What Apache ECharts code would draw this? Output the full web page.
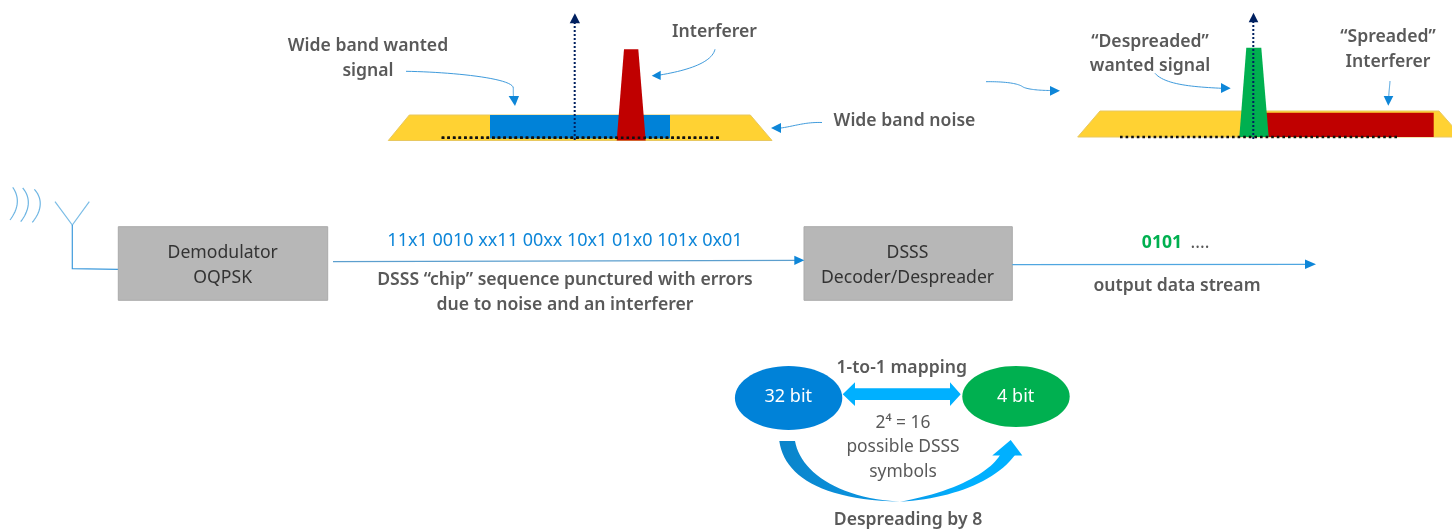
<!DOCTYPE html>
<html>
<head>
<meta charset="utf-8">
<style>html,body{margin:0;padding:0;background:#fff;overflow:hidden}#c{width:1452px;height:529px}</style>
<script src="https://cdn.jsdelivr.net/npm/echarts@6/dist/echarts.min.js"></script>
</head>
<body>
<div id="c"></div>
<script>
// ---- diagram geometry, in diagram units
const noiseBandLeft = [[388.3,140.5],[409.3,115],[750.3,115],[772,140.5]];
const wantedBandLeft = [[490,115],[670,115],[670,138.5],[490,138.5]];
const interfererLeft = [[624,49.3],[638.3,49.3],[645.7,140.5],[616.7,140.5]];
const noiseBandRight = [[1077.7,137],[1100,111],[1439,111],[1462,137]];
const spreadBandRight = [[1266,112.7],[1433.7,112.7],[1433.7,137],[1266,137]];
const despreadRight = [[1246.3,47.7],[1261.3,47.7],[1268.7,137],[1239.3,137]];
const demodBox = [[118.3,226.7],[327.7,226.7],[327.7,300.3],[118.3,300.3]];
const decoderBox = [[804,226.7],[1012.3,226.7],[1012.3,300.3],[804,300.3]];
const mappingArrow = [[842.7,394.3],[855,382.3],[855,388.3],[950,388.3],[950,382.3],[960.7,394.3],[950,406],[950,400],[855,400],[855,406]];
const despreadHead = [[992.3,455.5],[1010.7,440],[1022.3,455.5]];

const floorDotsLeft = [[441.7,137.7],[720.7,137.7]];
const floorDotsRight = [[1120,137],[1399.3,137]];
const carrierLeft = [[574.7,140],[574.7,22]];
const carrierRight = [[1253.3,139],[1253.3,21]];
const carrierHeadLeft = [[574.9,13.3],[580,23.3],[569.7,23.3]];
const carrierHeadRight = [[1253.5,12.7],[1258.3,22.3],[1248.7,22.3]];

const antennaFork = [[55,201.7],[72.3,225],[89.3,201.7]];
const antennaFeed = [[72.3,225],[72.3,268.7],[118.3,269.3]];
const chipLink = [[333,261.7],[795,260.3]];
const outputLink = [[1012.3,264.7],[1306,264.3]];
const chipHead = [[804.3,260.3],[794.3,255.7],[794.3,265]];
const outputHead = [[1316,264.3],[1305,259.6],[1305,269]];

// cubic Bezier control points: start, control, control, end
const waveOne = [[12.7,187.3],[19.5,197],[19,208],[10,220]];
const waveTwo = [[22.7,188],[30.5,197],[30.5,209],[20.7,221.7]];
const waveThree = [[34.3,189.3],[42.5,198],[42.5,210],[32.3,222.3]];
const wantedCurve = [[406,71.3],[450,72],[513,78],[513.3,88],[513.3,92],[513.3,94],[513.5,97]];
const interfererCurve = [[715,49.3],[712,62],[690,70],[660,75]];
const noiseCurve = [[822,122.5],[805,122],[795,126],[781,128]];
const centreCurve = [[986,81.7],[1003,81.5],[1018,83],[1023,87],[1028,89.5],[1040,90.5],[1051,90.5]];
const despreadCurve = [[1155,73.3],[1165,85],[1195,87],[1222,88.3]];
const spreadCurve = [[1390,81],[1389.7,86],[1389,91],[1388.7,97]];

const wantedHead = [[515,106],[508.6,96],[519,96]];
const interfererHead = [[651.7,75.7],[660.7,70.7],[660.7,80]];
const noiseHead = [[771,128],[781,123],[781,133]];
const centreHead = [[1060,90.7],[1050,86],[1050,95.7]];
const despreadHeadSmall = [[1230.7,88.3],[1221,83],[1221,93]];
const spreadHead = [[1388.3,105.7],[1383.7,96],[1393.3,96]];

const bandLowerLeft = [[779.3,441],[784,475],[820,500],[900,501.7]];
const bandUpperLeft = [[900,501.7],[835,498],[800,470],[795,441]];
const bandLowerRight = [[900,501.7],[950,499],[995,482],[1015,455]];
const bandUpperRight = [[1000,455],[990,472],[955,492],[900,501.7]];

const ellipseCentres = [[788.6,398],[1016,396.5]];
const ellipseRadii = [[53.7,32],[53.7,30.5]];

// ---- text
const headingLabels = ["Wide band wanted","signal","Interferer","Wide band noise","“Despreaded”","wanted signal","“Spreaded”","Interferer",
  "DSSS “chip” sequence punctured with errors","due to noise and an interferer","output data stream","1-to-1 mapping","Despreading by 8"];
const headingAnchors = [[368,46],[368,71],[714.5,32],[904.5,121],[1150,42],[1150,66],[1388,37],[1388,62],[565,279.5],[565,304.5],[1177,286],[901.7,368],[908,520]];
const boxLabels = ["Demodulator","OQPSK","DSSS","Decoder/Despreader"];
const boxAnchors = [[222.7,253],[222.7,278],[907.5,253],[907.5,278]];
const chipLabels = ["11x1 0010 xx11 00xx 10x1 01x0 101x 0x01"];
const chipAnchors = [[565,240.5]];
const outputBits = ["0101"];
const outputBitsAnchors = [[1162,243]];
const outputDots = ["...."];
const outputDotsAnchors = [[1200,243]];
const ellipseLabels = ["32 bit","4 bit"];
const ellipseLabelAnchors = [[788.3,396.5],[1015.7,396.5]];
const symbolLabels = ["2⁴ = 16","possible DSSS","symbols"];
const symbolAnchors = [[903,423],[903,447.5],[903,472]];

// ---- helpers
const YELLOW='#FFD233',BLUE='#0082D8',RED='#C00000',GREEN='#00B050',GREY='#B7B7B7',NAVY='#002060',
      WIRE='#3F9BDC',HEAD='#0E86D8',SKY='#00B0FF';
const FONT='"Noto Sans","Open Sans",sans-serif';

function cubicSample(ctrl){
  const out=[];
  for(let s=0;s+3<ctrl.length;s+=3){
    const [a,b,c,d]=ctrl.slice(s,s+4);
    for(let i=(s?1:0);i<=24;i++){
      const t=i/24,u=1-t;
      out.push([0,1].map(k=>u*u*u*a[k]+3*u*u*t*b[k]+3*u*t*t*c[k]+t*t*t*d[k]));
    }
  }
  return out;
}
function shapeSeries(points,draw){
  return {type:'custom',coordinateSystem:'cartesian2d',silent:true,clip:false,animation:false,
    encode:{x:0,y:1},data:points,
    renderItem:(p,api)=>p.dataIndex===0?draw(points.map(q=>api.coord(q))):null};
}
function fill(points,color,stroke){
  return shapeSeries(points,pts=>({type:'polygon',shape:{points:pts},style:{fill:color,stroke:stroke||null,lineWidth:stroke?1:0}}));
}
function line(points,color,width,dash){
  return shapeSeries(points,pts=>({type:'polyline',shape:{points:pts},style:{fill:null,stroke:color,lineWidth:width,lineDash:dash||null}}));
}
function curve(ctrl,color,width){ return line(cubicSample(ctrl),color,width); }
function texts(labels,anchors,style){
  return {type:'custom',coordinateSystem:'cartesian2d',silent:true,clip:false,animation:false,
    encode:{x:0,y:1},data:anchors,
    renderItem:(p,api)=>{
      const c=api.coord(anchors[p.dataIndex]);
      return {type:'text',x:c[0],y:c[1],style:Object.assign({text:labels[p.dataIndex],align:'center',verticalAlign:'middle',fontFamily:FONT},style)};
    }};
}
function ellipse(centre,radii,color){
  return shapeSeries([centre],pts=>({type:'ellipse',shape:{cx:pts[0][0],cy:pts[0][1],rx:radii[0],ry:radii[1]},style:{fill:color}}));
}

const bandOutline=[...cubicSample(bandLowerLeft),...cubicSample(bandLowerRight),...cubicSample(bandUpperRight),...cubicSample(bandUpperLeft)];
const bandFill=new echarts.graphic.LinearGradient(0,0,1,0,[{offset:0,color:'#0A84CA'},{offset:0.5,color:'#0A98E6'},{offset:0.8,color:SKY},{offset:1,color:SKY}]);

const series=[
  fill(noiseBandLeft,YELLOW,'#E8C860'),
  fill(wantedBandLeft,BLUE),
  line(floorDotsLeft,'#111',2.6,[2.6,3]),
  line(carrierLeft,NAVY,2,[2,2]),
  fill(carrierHeadLeft,NAVY),
  fill(interfererLeft,RED),
  line(floorDotsLeft,'#111',2.6,[2.6,3]),
  fill(noiseBandRight,YELLOW,'#E8C860'),
  fill(spreadBandRight,RED),
  fill(despreadRight,GREEN),
  line(floorDotsRight,'#111',2.6,[2.6,3]),
  line(carrierRight,NAVY,2,[2,2]),
  fill(carrierHeadRight,NAVY),

  curve(wantedCurve,WIRE,1),fill(wantedHead,HEAD),
  curve(interfererCurve,WIRE,1),fill(interfererHead,HEAD),
  curve(noiseCurve,WIRE,1),fill(noiseHead,HEAD),
  curve(centreCurve,WIRE,1),fill(centreHead,HEAD),
  curve(despreadCurve,WIRE,1),fill(despreadHeadSmall,HEAD),
  curve(spreadCurve,WIRE,1),fill(spreadHead,HEAD),

  curve(waveOne,'#6DB5E3',1.2),curve(waveTwo,'#6DB5E3',1.2),curve(waveThree,'#6DB5E3',1.2),
  line(antennaFork,'#7CBDE6',1.2),
  line(antennaFeed,'#3F9BDC',1.2),
  fill(demodBox,GREY,'#ABABAB'),
  fill(decoderBox,GREY,'#ABABAB'),
  line(chipLink,'#5C9FCE',1.2),fill(chipHead,HEAD),
  line(outputLink,'#4FA6E0',1.2),fill(outputHead,HEAD),

  ellipse(ellipseCentres[0],ellipseRadii[0],BLUE),
  ellipse(ellipseCentres[1],ellipseRadii[1],GREEN),
  fill(mappingArrow,SKY),
  fill(bandOutline,bandFill),
  fill(despreadHead,SKY),

  texts(headingLabels,headingAnchors,{fill:'#595959',fontSize:17.6,fontWeight:600}),
  texts(boxLabels,boxAnchors,{fill:'#333333',fontSize:17.6}),
  texts(chipLabels,chipAnchors,{fill:'#0E86D8',fontSize:18}),
  texts(outputBits,outputBitsAnchors,{fill:GREEN,fontSize:17.6,fontWeight:700}),
  texts(outputDots,outputDotsAnchors,{fill:'#595959',fontSize:17.6}),
  texts(ellipseLabels,ellipseLabelAnchors,{fill:'#FFFFFF',fontSize:18}),
  texts(symbolLabels,symbolAnchors,{fill:'#595959',fontSize:17.4})
];

const chart=echarts.init(document.getElementById('c'),null,{renderer:'canvas'});
chart.setOption({
  animation:false,backgroundColor:'#fff',
  tooltip:{show:false},legend:{show:false},
  grid:{left:0,right:0,top:0,bottom:0},
  xAxis:{type:'value',min:0,max:1452,show:false,scale:true},
  yAxis:{type:'value',min:0,max:529,inverse:true,show:false,scale:true},
  series
});
</script>
</body>
</html>
